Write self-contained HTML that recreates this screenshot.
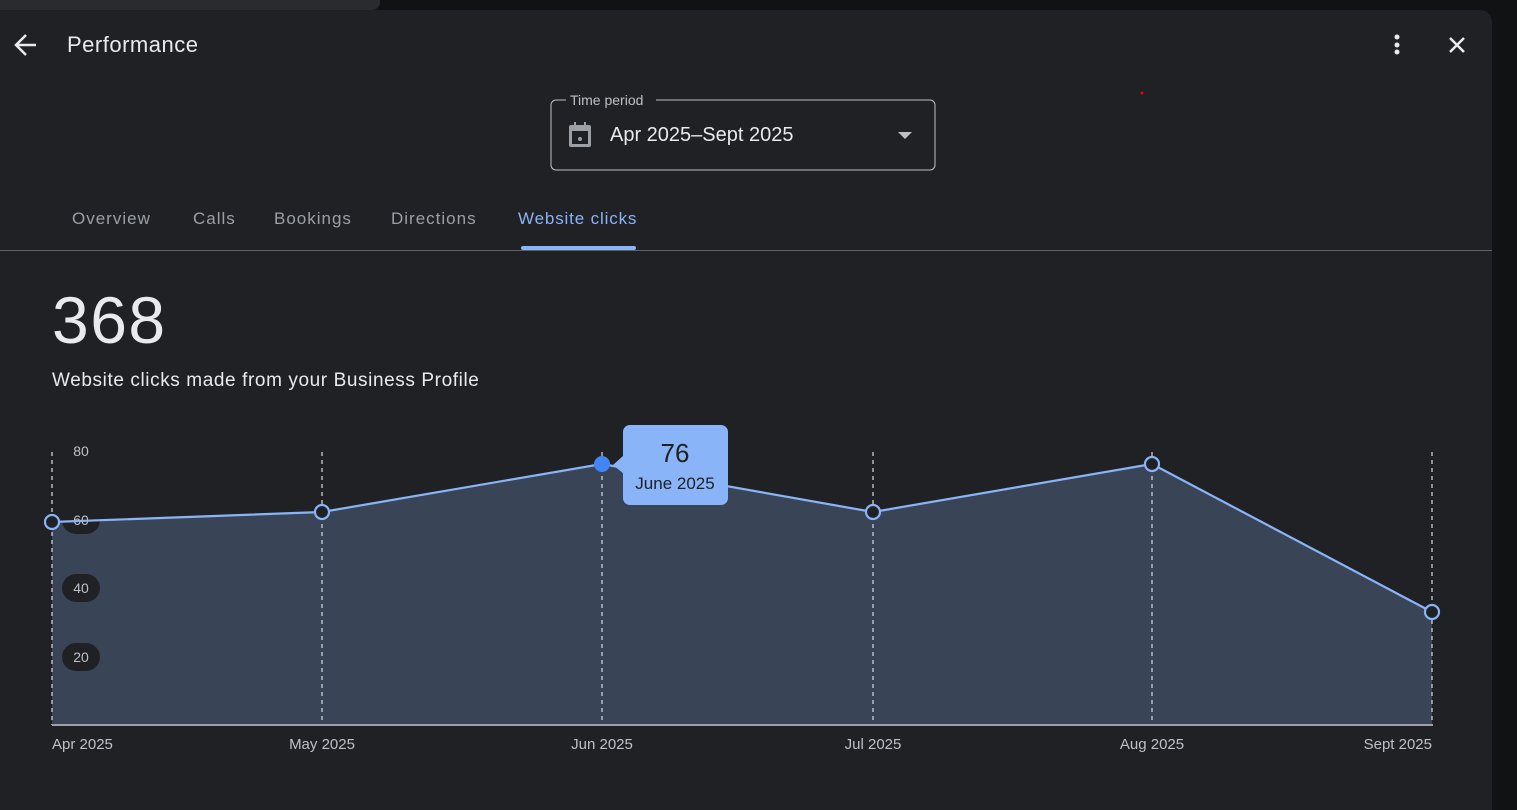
<!DOCTYPE html>
<html><head><meta charset="utf-8"><style>
body{margin:0;width:1517px;height:797px;background:#111214;overflow:hidden;font-family:"Liberation Sans",sans-serif;position:relative}
.panel{position:absolute;left:0;top:10px;width:1492px;height:800px;background:#202124;border-top-right-radius:12px}
.t{position:absolute;white-space:nowrap}
.tab{font-size:17px;color:#9aa0a6;letter-spacing:1px;top:209px}
</style></head><body>
<div style="position:absolute;left:0;top:0;width:380px;height:10px;background:#2a2b2e;border-bottom-right-radius:8px"></div>
<div class="panel"></div>
<svg style="position:absolute;left:0;top:0" width="1517" height="797">
<path d="M36 45H17M26 35L16 45L26 55" stroke="#e8eaed" stroke-width="2.5" fill="none"/>
<circle cx="1397" cy="37" r="2.5" fill="#e8eaed"/><circle cx="1397" cy="45" r="2.5" fill="#e8eaed"/><circle cx="1397" cy="52" r="2.5" fill="#e8eaed"/>
<path d="M1450 38L1464 52M1464 38L1450 52" stroke="#e8eaed" stroke-width="2.5"/>
<circle cx="1142" cy="93" r="1.5" fill="#e00"/>
<path d="M566 100H556a5 5 0 0 0-5 5v60a5 5 0 0 0 5 5h374a5 5 0 0 0 5-5v-60a5 5 0 0 0-5-5H656" stroke="#bdc1c6" fill="none"/>
<rect x="569" y="125" width="22" height="22" rx="2" fill="#9aa0a6"/><rect x="572" y="131" width="16" height="13" fill="#202124"/><rect x="574" y="122" width="2" height="5" fill="#9aa0a6"/><rect x="584" y="122" width="2" height="5" fill="#9aa0a6"/><circle cx="580" cy="139" r="2" fill="#9aa0a6"/>
<path d="M898 132h14l-7 7z" fill="#bdc1c6"/>
<rect x="521" y="246" width="115" height="4" rx="2" fill="#8ab4f8"/>
<rect x="0" y="250" width="1492" height="1" fill="#5f6368"/>
<path d="M52 522L322 512L602 464L873 512L1152 464L1432 612V725H52Z" fill="#394457"/>
<g stroke="#dadce0" stroke-dasharray="4 4" stroke-width="1.2">
<path d="M52 452V725M322 452V725M602 452V725M873 452V725M1152 452V725M1432 452V725"/></g>
<rect x="52" y="724" width="1381" height="2" fill="#9aa0a6"/>
<g fill="#202124"><rect x="62" y="506" width="38" height="28" rx="14"/><rect x="62" y="574" width="38" height="28" rx="14"/><rect x="62" y="643" width="38" height="28" rx="14"/></g>
<g fill="#bdc1c6" font-size="14" font-family="Liberation Sans" text-anchor="middle"><text x="81" y="456">80</text><text x="81" y="525">60</text><text x="81" y="593">40</text><text x="81" y="662">20</text></g>
<path d="M52 522L322 512L602 464L873 512L1152 464L1432 612" stroke="#8ab4f8" stroke-width="2.2" fill="none"/>
<g fill="#202124" stroke="#8ab4f8" stroke-width="2.2"><circle cx="52" cy="522" r="7"/><circle cx="322" cy="512" r="7"/><circle cx="873" cy="512" r="7"/><circle cx="1152" cy="464" r="7"/><circle cx="1432" cy="612" r="7"/></g>
<circle cx="602" cy="464" r="8" fill="#4285f4"/>
<path d="M624 455L613 465L624 474Z" fill="#8ab4f8"/>
<rect x="623" y="425" width="105" height="80" rx="7" fill="#8ab4f8"/>
<text x="675" y="462" font-size="26" fill="#202124" text-anchor="middle" font-family="Liberation Sans">76</text>
<text x="675" y="489" font-size="17" fill="#202124" text-anchor="middle" font-family="Liberation Sans">June 2025</text>
<g fill="#bdc1c6" font-size="15" font-family="Liberation Sans"><text x="52" y="749">Apr 2025</text><text x="322" y="749" text-anchor="middle">May 2025</text><text x="602" y="749" text-anchor="middle">Jun 2025</text><text x="873" y="749" text-anchor="middle">Jul 2025</text><text x="1152" y="749" text-anchor="middle">Aug 2025</text><text x="1432" y="749" text-anchor="end">Sept 2025</text></g>
</svg>
<div class="t" style="left:67px;top:32px;font-size:22px;color:#e8eaed;letter-spacing:0.5px">Performance</div>
<div class="t" style="left:570px;top:92px;font-size:14px;color:#bdc1c6">Time period</div>
<div class="t" style="left:610px;top:124px;font-size:20px;color:#e8eaed">Apr 2025–Sept 2025</div>
<div class="t tab" style="left:72px">Overview</div>
<div class="t tab" style="left:193px">Calls</div>
<div class="t tab" style="left:274px">Bookings</div>
<div class="t tab" style="left:391px">Directions</div>
<div class="t tab" style="left:518px;color:#8ab4f8;letter-spacing:0.85px">Website clicks</div>
<div class="t" style="left:52px;top:282px;font-size:66px;color:#e8eaed;letter-spacing:1.5px">368</div>
<div class="t" style="left:52px;top:370px;font-size:19px;color:#e8eaed;letter-spacing:0.6px">Website clicks made from your Business Profile</div>
</body></html>
